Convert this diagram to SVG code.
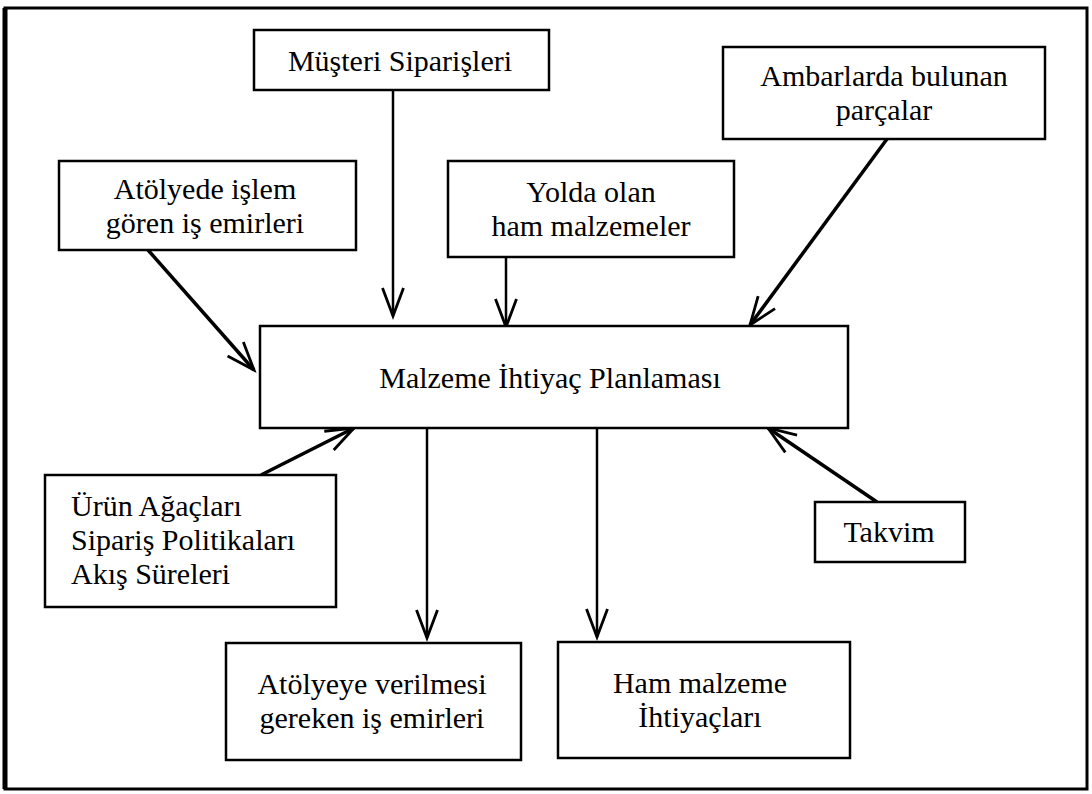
<svg xmlns="http://www.w3.org/2000/svg" width="1092" height="794" viewBox="0 0 1092 794">
<style>
  .box{fill:#fff;stroke:#000;stroke-width:2.5}
  .t{font-family:"Liberation Serif","Times New Roman",serif;font-size:30px;fill:#000}
  .c{text-anchor:middle}
  .ln{fill:none;stroke:#000;stroke-width:3.5}
  .lv{fill:none;stroke:#000;stroke-width:2.5}
</style>
<defs>
  <marker id="ah" viewBox="-32 -14 36 28" refX="0" refY="0" markerWidth="36" markerHeight="28" markerUnits="userSpaceOnUse" orient="auto" overflow="visible">
    <path d="M-28,-10.5 L0,0 L-28,10.5" fill="none" stroke="#000" stroke-width="2.8"/>
  </marker>
</defs>
<rect width="1092" height="794" fill="#fff"/>
<g id="frame">
  <rect x="5" y="8" width="1082" height="781" fill="none" stroke="#000" stroke-width="3"/>
  <line x1="5" y1="8" x2="5" y2="789" stroke="#000" stroke-width="5"/>
</g>
<g id="connectors">
  <line class="lv" x1="393" y1="90" x2="393" y2="316" marker-end="url(#ah)"/>
  <line class="ln" x1="148" y1="250" x2="254" y2="370" marker-end="url(#ah)"/>
  <line class="lv" x1="506" y1="257" x2="506" y2="327" marker-end="url(#ah)"/>
  <line class="ln" x1="887" y1="139" x2="750" y2="325" marker-end="url(#ah)"/>
  <line class="ln" x1="261" y1="475" x2="354" y2="428" marker-end="url(#ah)"/>
  <line class="lv" x1="427" y1="428" x2="427" y2="638" marker-end="url(#ah)"/>
  <line class="lv" x1="597" y1="428" x2="597" y2="637" marker-end="url(#ah)"/>
  <line class="ln" x1="877" y1="502" x2="768" y2="428" marker-end="url(#ah)"/>
</g>
<g id="musteri">
  <rect class="box" x="254" y="30" width="295" height="60"/>
  <text class="t c" x="400" y="71">Müşteri Siparişleri</text>
</g>
<g id="ambar">
  <rect class="box" x="723" y="47" width="322" height="92"/>
  <text class="t c" x="884" y="86">Ambarlarda bulunan</text>
  <text class="t c" x="884" y="120">parçalar</text>
</g>
<g id="atolyede">
  <rect class="box" x="59" y="161" width="297" height="89"/>
  <text class="t c" x="205" y="199">Atölyede işlem</text>
  <text class="t c" x="205" y="233">gören iş emirleri</text>
</g>
<g id="yolda">
  <rect class="box" x="448" y="161" width="286" height="96"/>
  <text class="t c" x="591" y="202">Yolda olan</text>
  <text class="t c" x="591" y="236">ham malzemeler</text>
</g>
<g id="mip">
  <rect class="box" x="260" y="326" width="588" height="102"/>
  <text class="t c" x="550" y="388">Malzeme İhtiyaç Planlaması</text>
</g>
<g id="urun">
  <rect class="box" x="45" y="475" width="291" height="132"/>
  <text class="t" x="71" y="516">Ürün Ağaçları</text>
  <text class="t" x="71" y="550">Sipariş Politikaları</text>
  <text class="t" x="71" y="584">Akış Süreleri</text>
</g>
<g id="takvim">
  <rect class="box" x="815" y="502" width="150" height="60"/>
  <text class="t c" x="889" y="542">Takvim</text>
</g>
<g id="atolyeye">
  <rect class="box" x="226" y="643" width="295" height="117"/>
  <text class="t c" x="372" y="694">Atölyeye verilmesi</text>
  <text class="t c" x="372" y="728">gereken iş emirleri</text>
</g>
<g id="ham">
  <rect class="box" x="558" y="642" width="292" height="116"/>
  <text class="t c" x="700" y="693">Ham malzeme</text>
  <text class="t c" x="700" y="727">İhtiyaçları</text>
</g>
</svg>
